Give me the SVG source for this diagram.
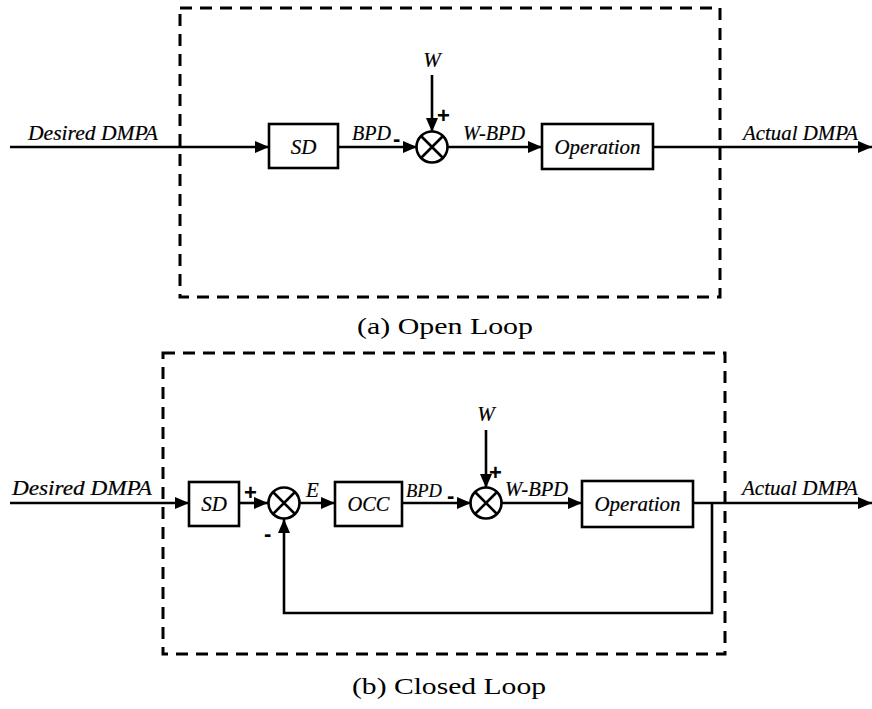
<svg xmlns="http://www.w3.org/2000/svg" width="872" height="709" viewBox="0 0 872 709">
  <style>
    .line { fill: none; stroke: #000; stroke-width: 2.6; }
    .box { fill: #fff; stroke: #000; stroke-width: 2.6; }
    .sum { fill: #fff; stroke: #000; stroke-width: 2.6; }
    .dash { fill: none; stroke: #000; stroke-width: 3; stroke-dasharray: 12 8; }
    .lbl { font-family: "Liberation Serif", "Times New Roman", serif; font-style: italic; font-size: 21px; fill: #000; stroke: #000; stroke-width: 0.2; }
    .sign { font-family: "Liberation Sans", Arial, sans-serif; font-size: 22px; font-weight: bold; fill: #000; }
    .cap { font-family: "Liberation Serif", "Times New Roman", serif; font-size: 23px; fill: #000; }
  </style>
  <defs>
    <marker id="arrow" markerWidth="14" markerHeight="12" refX="14" refY="6" orient="auto" markerUnits="userSpaceOnUse">
      <path d="M0,0 L14,6 L0,12 Z" fill="#000"/>
    </marker>
  </defs>
  <rect width="872" height="709" fill="#fff"/>

  <!-- (a) open loop -->
  <rect class="dash" x="180" y="8" width="540" height="289"/>
  <g id="connectors-a">
    <line class="line" x1="10" y1="147" x2="269" y2="147" marker-end="url(#arrow)"/>
    <line class="line" x1="338" y1="147" x2="417" y2="147" marker-end="url(#arrow)"/>
    <line class="line" x1="432" y1="75" x2="432" y2="132" marker-end="url(#arrow)"/>
    <line class="line" x1="447" y1="147" x2="542" y2="147" marker-end="url(#arrow)"/>
    <line class="line" x1="653" y1="147" x2="872" y2="147" marker-end="url(#arrow)"/>
  </g>
  <g id="a-sd">
    <rect class="box" x="269" y="124" width="69" height="44"/>
    <text class="lbl" x="303.5" y="154" text-anchor="middle">SD</text>
  </g>
  <g id="a-sum">
    <circle class="sum" cx="432" cy="147" r="15.5"/>
    <path class="line" d="M421,136 L443,158 M443,136 L421,158"/>
  </g>
  <g id="a-op">
    <rect class="box" x="542" y="124" width="111" height="45"/>
    <text class="lbl" x="597.5" y="154" text-anchor="middle" textLength="86" lengthAdjust="spacingAndGlyphs">Operation</text>
  </g>
  <g id="a-labels">
    <text class="lbl" x="28" y="140" textLength="130" lengthAdjust="spacingAndGlyphs">Desired  DMPA</text>
    <text class="lbl" x="352" y="140" textLength="39" lengthAdjust="spacingAndGlyphs">BPD</text>
    <text class="sign" x="393" y="146">-</text>
    <text class="lbl" x="432" y="67" text-anchor="middle">W</text>
    <text class="sign" x="437" y="123">+</text>
    <text class="lbl" x="463" y="140" textLength="62" lengthAdjust="spacingAndGlyphs">W-BPD</text>
    <text class="lbl" x="743" y="140" textLength="115" lengthAdjust="spacingAndGlyphs">Actual DMPA</text>
  </g>
  <text class="cap" x="357" y="334" textLength="176" lengthAdjust="spacingAndGlyphs">(a) Open Loop</text>

  <!-- (b) closed loop -->
  <rect class="dash" x="163" y="353" width="562" height="301"/>
  <g id="connectors-b">
    <line class="line" x1="10" y1="503" x2="189" y2="503" marker-end="url(#arrow)"/>
    <line class="line" x1="239" y1="503" x2="268" y2="503" marker-end="url(#arrow)"/>
    <line class="line" x1="299" y1="503" x2="335" y2="503" marker-end="url(#arrow)"/>
    <line class="line" x1="402" y1="503" x2="471" y2="503" marker-end="url(#arrow)"/>
    <line class="line" x1="486" y1="430" x2="486" y2="488" marker-end="url(#arrow)"/>
    <line class="line" x1="501" y1="503" x2="582" y2="503" marker-end="url(#arrow)"/>
    <line class="line" x1="693" y1="503" x2="872" y2="503" marker-end="url(#arrow)"/>
    <polyline class="line" points="712,503 712,613 284,613 284,519" marker-end="url(#arrow)"/>
  </g>
  <g id="b-sd">
    <rect class="box" x="189" y="482" width="50" height="44"/>
    <text class="lbl" x="214" y="511" text-anchor="middle">SD</text>
  </g>
  <g id="b-sum1">
    <circle class="sum" cx="284" cy="503" r="15.5"/>
    <path class="line" d="M273,492 L295,514 M295,492 L273,514"/>
  </g>
  <g id="b-occ">
    <rect class="box" x="335" y="482" width="67" height="44"/>
    <text class="lbl" x="368.5" y="511" text-anchor="middle" textLength="42" lengthAdjust="spacingAndGlyphs">OCC</text>
  </g>
  <g id="b-sum2">
    <circle class="sum" cx="486" cy="503" r="15.5"/>
    <path class="line" d="M475,492 L497,514 M497,492 L475,514"/>
  </g>
  <g id="b-op">
    <rect class="box" x="582" y="481" width="111" height="46"/>
    <text class="lbl" x="637.5" y="511" text-anchor="middle" textLength="86" lengthAdjust="spacingAndGlyphs">Operation</text>
  </g>
  <g id="b-labels">
    <text class="lbl" x="12" y="495" textLength="140" lengthAdjust="spacingAndGlyphs">Desired  DMPA</text>
    <text class="sign" x="244" y="500">+</text>
    <text class="lbl" x="306" y="497">E</text>
    <text class="lbl" x="406" y="497" style="font-size:18.5px">BPD</text>
    <text class="sign" x="447" y="503">-</text>
    <text class="sign" x="264" y="541">-</text>
    <text class="lbl" x="486" y="421" text-anchor="middle">W</text>
    <text class="sign" x="489" y="480">+</text>
    <text class="lbl" x="505" y="496" textLength="63" lengthAdjust="spacingAndGlyphs">W-BPD</text>
    <text class="lbl" x="742" y="495" textLength="116" lengthAdjust="spacingAndGlyphs">Actual DMPA</text>
  </g>
  <text class="cap" x="352" y="694" textLength="194" lengthAdjust="spacingAndGlyphs">(b) Closed Loop</text>
</svg>
